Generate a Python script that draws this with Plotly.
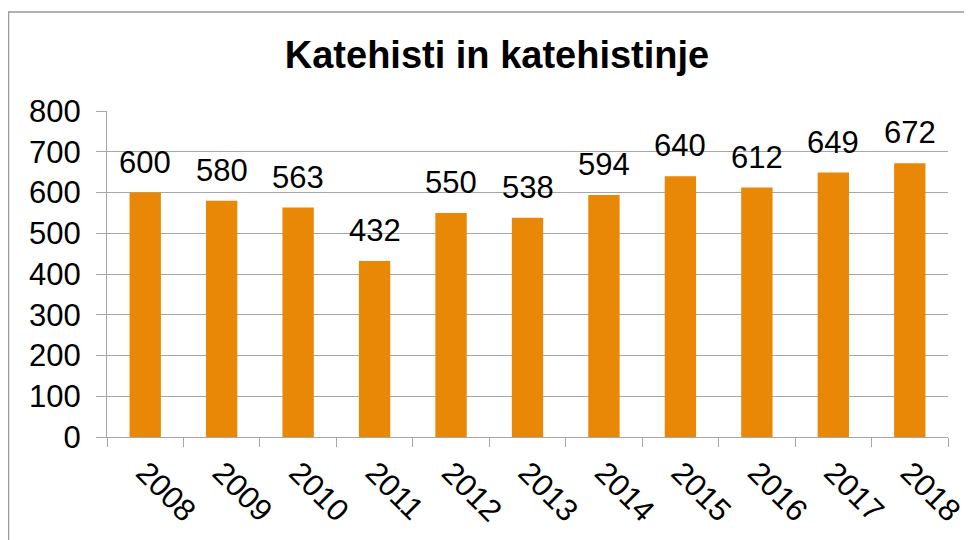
import plotly.graph_objects as go

years = ['2008', '2009', '2010', '2011', '2012', '2013',
         '2014', '2015', '2016', '2017', '2018']
catechists = [600, 580, 563, 432, 550, 538, 594, 640, 612, 649, 672]
y_ticks = [0, 100, 200, 300, 400, 500, 600, 700, 800]

FONT = 'Liberation Sans, Arial, sans-serif'
ORANGE = '#E98707'
GREY = '#A6A6A6'

fig = go.Figure()
fig.add_trace(go.Bar(x=years, y=catechists, marker_color=ORANGE,
                     marker_line_width=0))

# value labels above the bars (category axis -> use the serial index)
for i, v in enumerate(catechists):
    fig.add_annotation(x=i, y=v, text=str(v), showarrow=False,
                       yanchor='bottom', yshift=11,
                       font=dict(family=FONT, size=31, color='black'))

# page is drawn with an 8px body offset, margins compensate for it
fig.update_layout(
    width=972, height=540,
    margin=dict(l=99, r=32, t=103, b=111),
    paper_bgcolor='white', plot_bgcolor='white',
    showlegend=False,
    bargap=0.59,
    title=dict(text='<b>Katehisti in katehistinje</b>',
               x=489 / 972, xanchor='center', xref='container',
               y=1 - 47 / 540, yanchor='middle', yref='container',
               font=dict(family=FONT, size=38, color='black')),
    shapes=[dict(type='rect', xref='paper', yref='paper',
                 x0=(0.5 - 99) / 841, x1=1.2, y0=-0.6, y1=1 + 99 / 326,
                 line=dict(color='#9A9A9A', width=1.5), layer='below')],
)
fig.update_yaxes(range=[0, 800], tickvals=y_ticks, showgrid=True,
                 gridcolor=GREY, gridwidth=1, showline=True,
                 linecolor=GREY, linewidth=1, ticks='outside', ticklen=10,
                 tickcolor=GREY, ticklabelstandoff=9,
                 tickfont=dict(family=FONT, size=31, color='black'),
                 zeroline=False, automargin=False)
fig.update_xaxes(type='category', showline=True, linecolor=GREY,
                 linewidth=1, ticks='outside', ticklen=9, tickcolor=GREY,
                 tickson='boundaries', tickangle=45, automargin=False,
                 ticklabelstandoff=4,
                 tickfont=dict(family=FONT, size=31, color='black'))

fig.write_html('out.html')
